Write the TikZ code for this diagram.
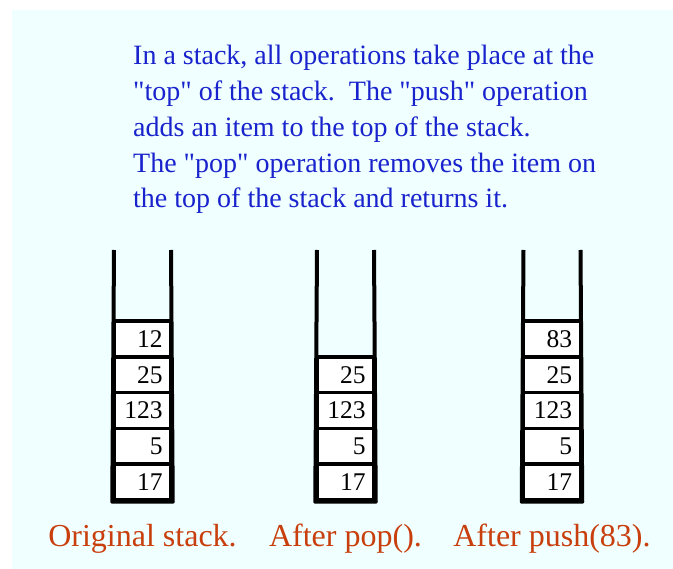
\documentclass[tikz,border=0pt]{standalone}
\usepackage{fontspec}
\setmainfont{Liberation Serif}[Ligatures=TeXOff]
\definecolor{bgc}{RGB}{240,255,255}
\definecolor{txtblue}{RGB}{25,35,205}
\definecolor{lblred}{RGB}{200,62,12}
\begin{document}
\begin{tikzpicture}[x=1pt,y=-1pt,
  cell/.style={draw=black, line width=3.5pt, fill=white, minimum width=57pt, minimum height=35.8pt,
    text width=40pt, inner xsep=8.5pt, inner ysep=0pt, align=right, text height=17pt, text depth=0pt,
    font=\fontsize{25.5}{26}\selectfont},
  wall/.style={line width=4pt, line join=round},
  expl/.style={anchor=base west, text=txtblue, font=\fontsize{28}{34}\selectfont, inner sep=0pt},
  caption/.style={anchor=base, text=lblred, font=\fontsize{32}{36}\selectfont, inner sep=0pt}]
\useasboundingbox (0,0) rectangle (673,569);
\fill[bgc] (12,10) rectangle (673,569);

% explanation text
\node[expl] (l1) at (133,65)    {In a stack, all operations take place at the};
\node[expl] (l2) at (133,100.7) {"top" of the stack.\ \ The "push" operation};
\node[expl] (l3) at (133,136.4) {adds an item to the top of the stack.};
\node[expl] (l4) at (133,172.1) {The "pop" operation removes the item on};
\node[expl] (l5) at (133,207.8) {the top of the stack and returns it.};

% stack 1
\node[cell] (s1c1) at (142.5,482.1) {17};
\node[cell] (s1c2) at (142.5,446.3) {5};
\node[cell] (s1c3) at (142.5,410.5) {123};
\node[cell] (s1c4) at (142.5,374.7) {25};
\node[cell] (s1c5) at (142.5,338.9) {12};
\coordinate (s1tl) at (114,250);
\coordinate (s1tr) at (171,250);
\draw[wall] (s1tl) -- (s1c1.south west) -- (s1c1.south east) -- (s1tr);

% stack 2
\node[cell] (s2c1) at (345.5,482.1) {17};
\node[cell] (s2c2) at (345.5,446.3) {5};
\node[cell] (s2c3) at (345.5,410.5) {123};
\node[cell] (s2c4) at (345.5,374.7) {25};
\coordinate (s2tl) at (317,250);
\coordinate (s2tr) at (374,250);
\draw[wall] (s2tl) -- (s2c1.south west) -- (s2c1.south east) -- (s2tr);

% stack 3
\node[cell] (s3c1) at (552,482.1) {17};
\node[cell] (s3c2) at (552,446.3) {5};
\node[cell] (s3c3) at (552,410.5) {123};
\node[cell] (s3c4) at (552,374.7) {25};
\node[cell] (s3c5) at (552,338.9) {83};
\coordinate (s3tl) at (523.5,250);
\coordinate (s3tr) at (580.5,250);
\draw[wall] (s3tl) -- (s3c1.south west) -- (s3c1.south east) -- (s3tr);

% captions
\node[caption] (cap1) at (142.5,547) {Original stack.};
\node[caption] (cap2) at (345.5,547) {After pop().};
\node[caption] (cap3) at (552,547)   {After push(83).};
\end{tikzpicture}
\end{document}
